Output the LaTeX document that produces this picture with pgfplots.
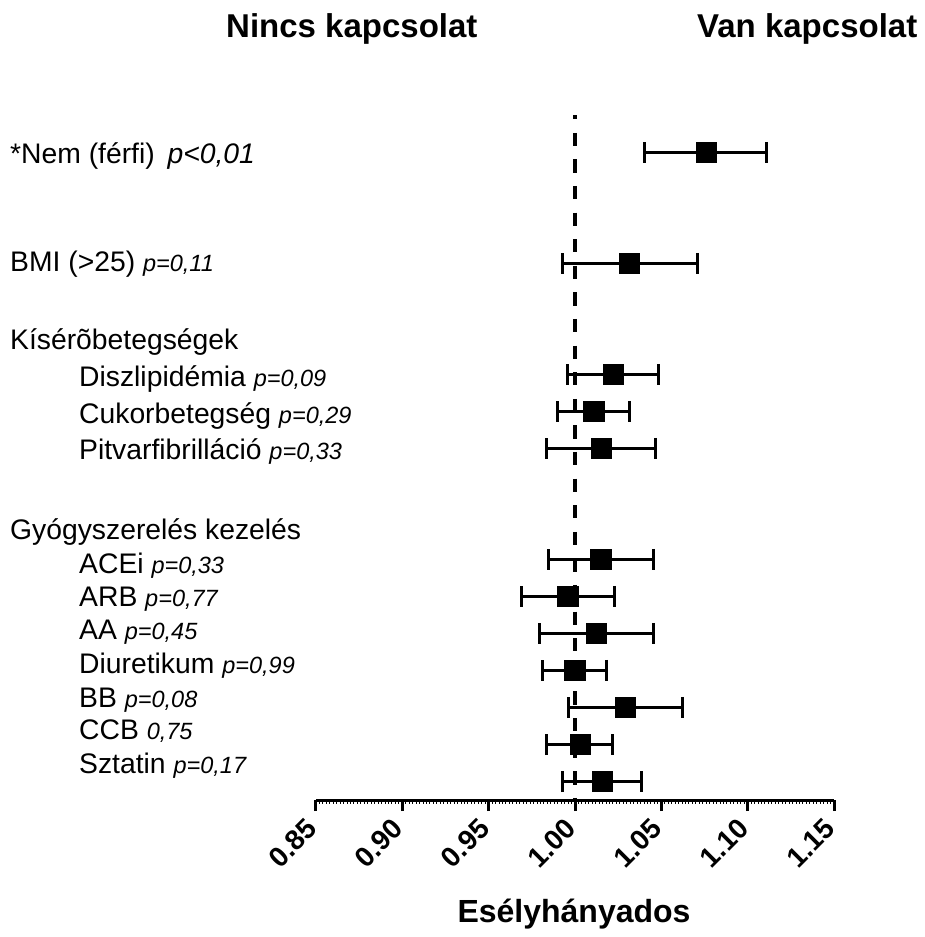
\documentclass[border=0pt]{standalone}
\usepackage{fontspec}
\setmainfont{Liberation Sans}
\usepackage{pgfplots}
\pgfplotsset{compat=1.18}

\newcommand{\mf}{\fontsize{28.3}{34}\selectfont}
\newcommand{\pf}{\fontsize{23.5}{28}\selectfont\itshape}
\newcommand{\tf}{\fontsize{28}{32}\selectfont\bfseries}

% row, odds ratio, error plus, error minus
\pgfplotstableread{
row  or      ep      em
18   1.0759  0.0351  0.0359
15   1.0313  0.0398  0.0388
12   1.0220  0.0265  0.0262
11   1.0108  0.0207  0.0208
10   1.0152  0.0317  0.0316
7    1.0149  0.0303  0.0301
6    0.9958  0.0268  0.0265
5    1.0122  0.0330  0.0325
4    0.9998  0.0186  0.0185
3    1.0291  0.0331  0.0326
2    1.0029  0.0189  0.0193
1    1.0158  0.0230  0.0229
}\ordata

\begin{document}
\begin{tikzpicture}
\path[use as bounding box] (-316pt,-137pt) rectangle (608pt,800pt);
\begin{axis}[
  at={(0,0)}, anchor=south west,
  scale only axis, width=518pt, height=703pt,
  xmin=0.85, xmax=1.15, ymin=0.5, ymax=19.5,
  axis x line=bottom, axis y line=none,
  axis line style={line width=3pt, -},
  xtick={0.85,0.90,0.95,1.00,1.05,1.10,1.15},
  xticklabels={0.85,0.90,0.95,1.00,1.05,1.10,1.15},
  minor x tick num=24,
  tick align=outside,
  major tick length=11pt, minor tick length=3.5pt,
  major tick style={line width=3pt, black},
  minor tick style={line width=1pt, black},
  xticklabel style={xshift=-4pt, yshift=-13pt, rotate=45, anchor=east,
    inner sep=0pt, font=\tf},
  clip=false,
]
\addplot[line width=4pt, dash pattern=on 13.3pt off 13.3pt, dash phase=9.3pt]
  coordinates {(1,19) (1,0.5)};
\addplot[only marks, mark=square*, color=black, mark size=10.2pt,
  mark options={line width=0.5pt},
  error bars/.cd, x dir=both, x explicit,
  error bar style={line width=3pt, black},
  error mark options={rotate=90, mark size=10.5pt, line width=3pt, black}]
  table[x=or, y=row, x error plus=ep, x error minus=em] {\ordata};
\end{axis}

\begin{scope}[shift={(-316pt,800pt)}, x=1pt, y=-1pt]
\tikzset{every node/.style={anchor=base west, inner sep=0pt}}
\node at (226,37.3) {\fontsize{33}{38}\selectfont\bfseries Nincs kapcsolat};
\node at (697,37.3) {\fontsize{33}{38}\selectfont\bfseries Van kapcsolat};
\node at (10,163.3) {\mf *Nem (férfi)\hspace{0.45em}{\itshape p<0,01}};
\node at (10,271.7) {\mf BMI (>25) {\pf p=0,11}};
\node at (10,350) {\mf Kísérõbetegségek};
\node at (79,386.7) {\mf Diszlipidémia {\pf p=0,09}};
\node at (79,423.3) {\mf Cukorbetegség {\pf p=0,29}};
\node at (79,460) {\mf Pitvarfibrilláció {\pf p=0,33}};
\node at (10,540) {\mf Gyógyszerelés kezelés};
\node at (79,573.3) {\mf ACEi {\pf p=0,33}};
\node at (79,606.7) {\mf ARB {\pf p=0,77}};
\node at (79,640) {\mf AA {\pf p=0,45}};
\node at (79,673.3) {\mf Diuretikum {\pf p=0,99}};
\node at (79,707.3) {\mf BB {\pf p=0,08}};
\node at (79,740) {\mf CCB {\pf 0,75}};
\node at (79,773.3) {\mf Sztatin {\pf p=0,17}};
\node[anchor=base] at (574,922) {\fontsize{32}{38}\selectfont\bfseries Esélyhányados};
\end{scope}
\end{tikzpicture}
\end{document}
